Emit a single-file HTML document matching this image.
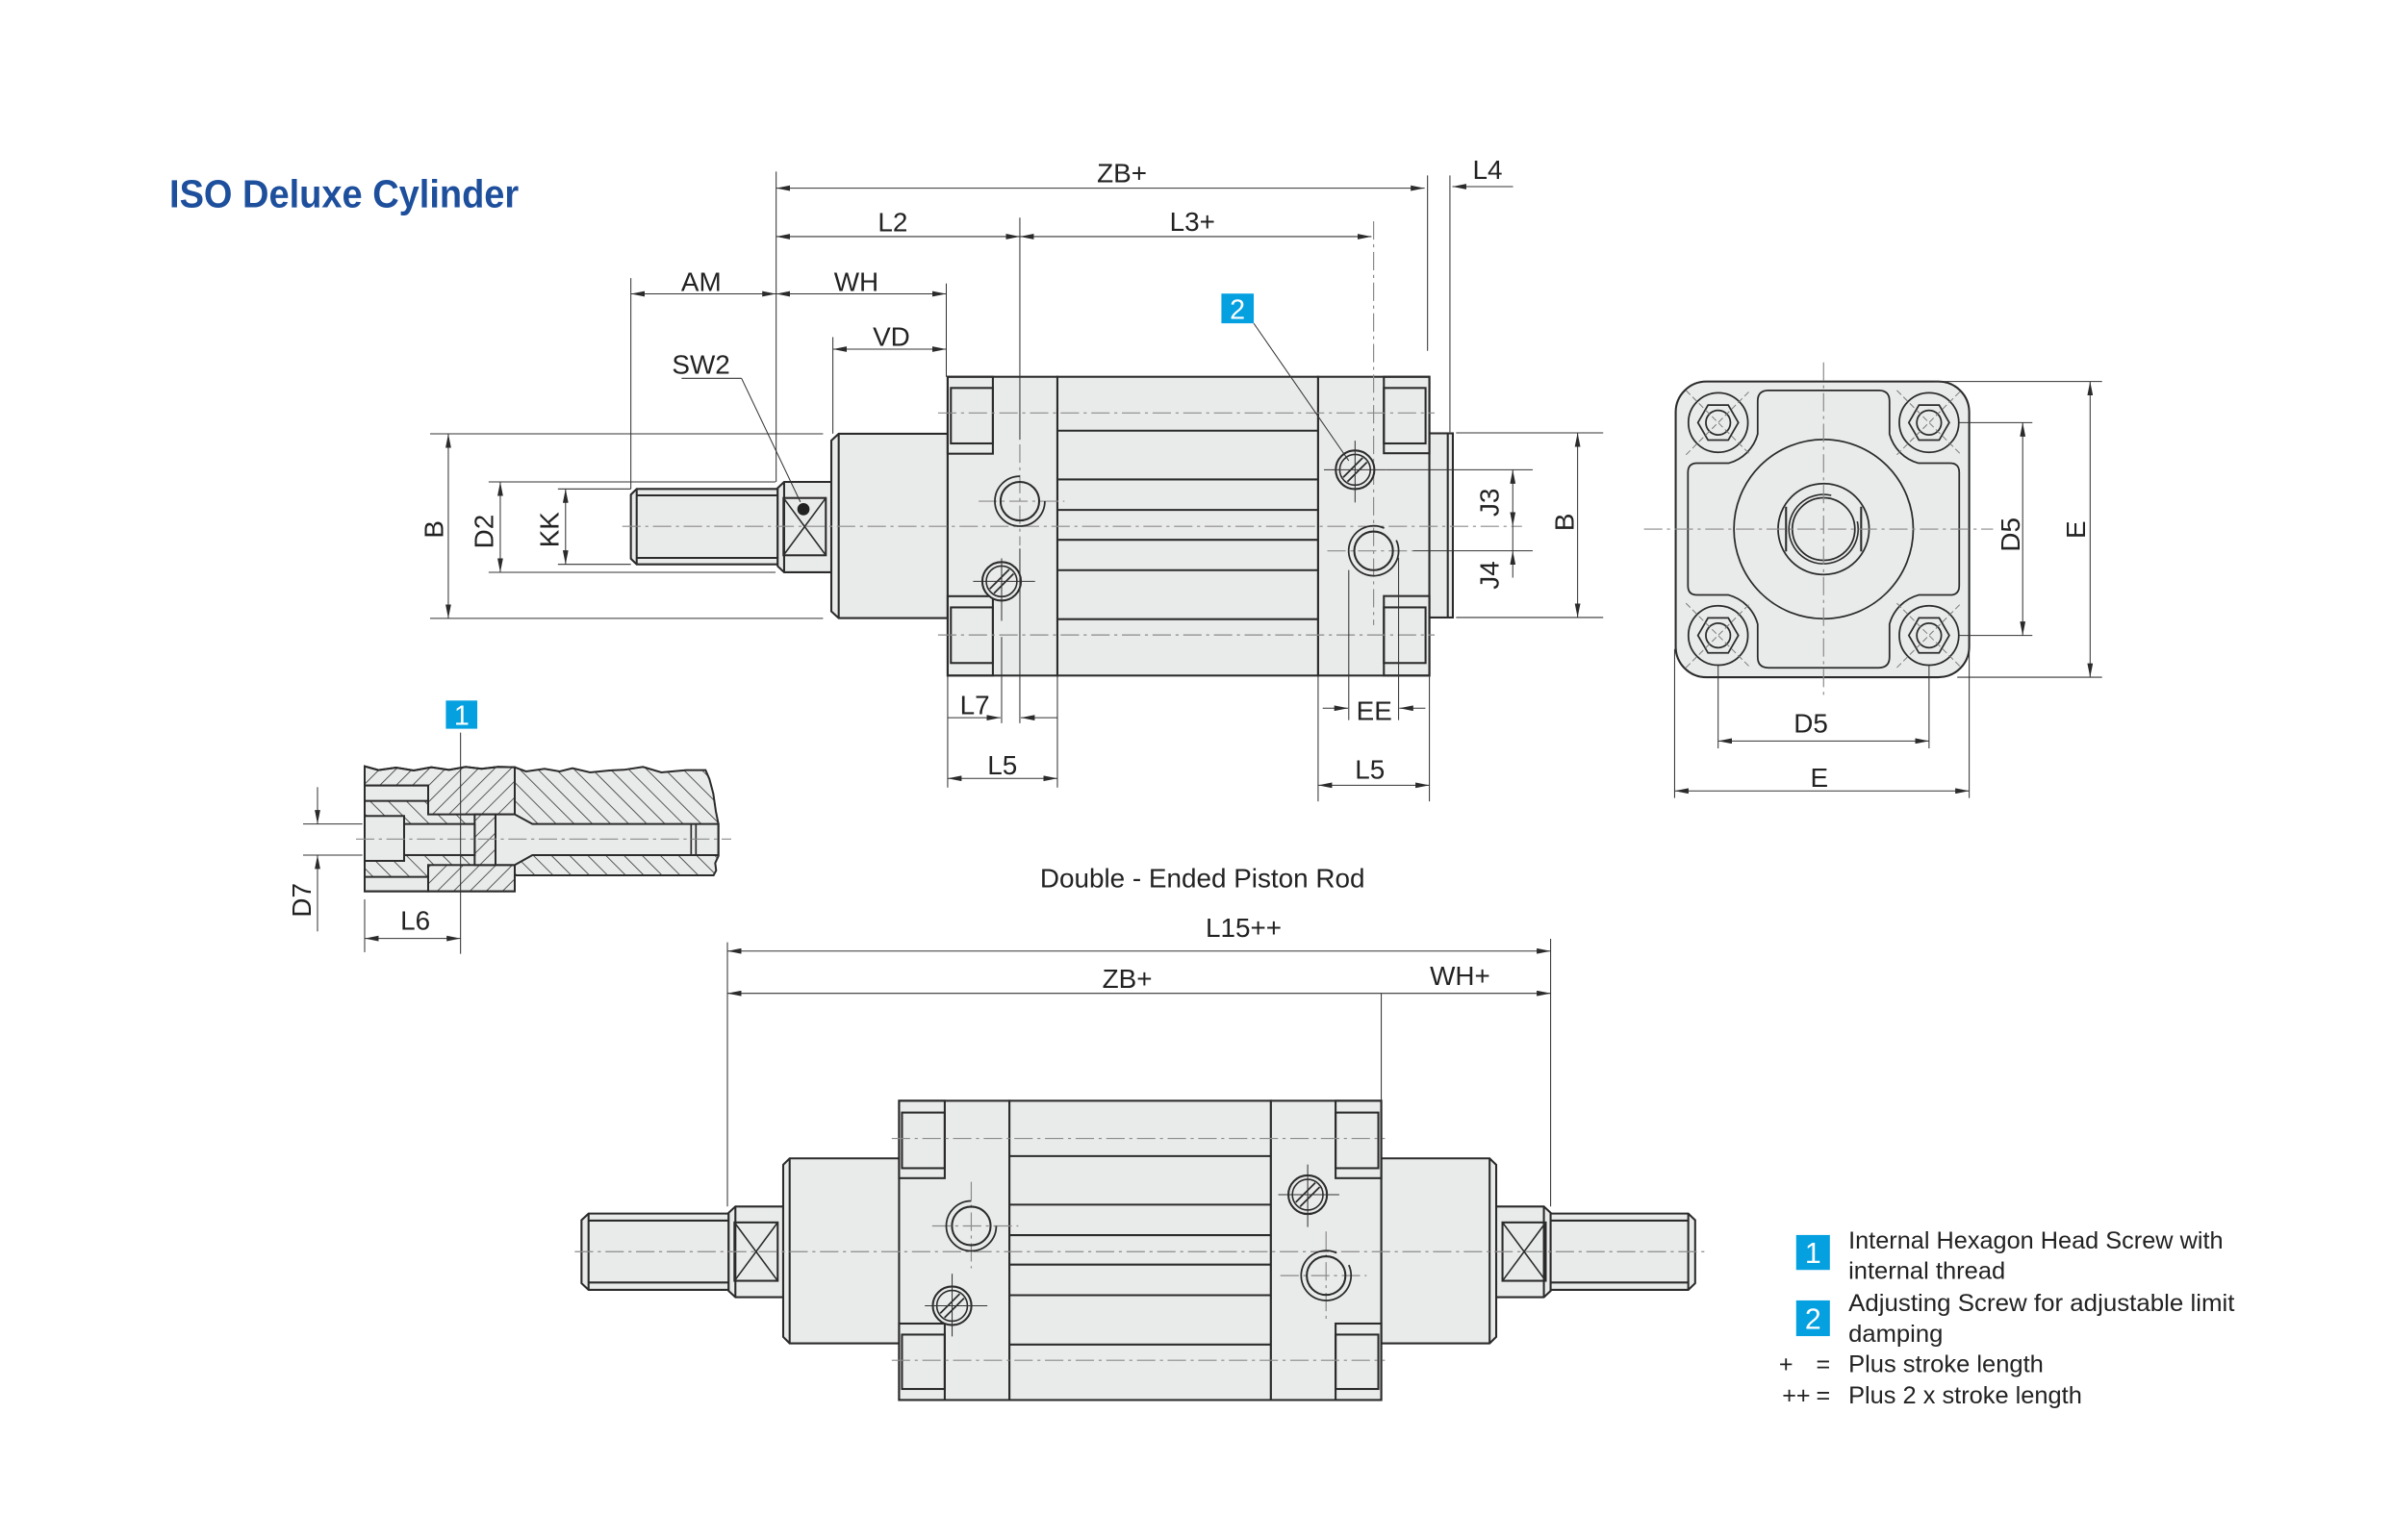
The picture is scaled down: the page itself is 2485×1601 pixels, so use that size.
<!DOCTYPE html>
<html><head><meta charset="utf-8">
<style>
html,body{margin:0;padding:0;background:#fff;overflow:hidden}
svg{display:block}
.o{fill:#e9eaea;stroke:#2b2b2b;stroke-width:1.3}
.l{fill:none;stroke:#2b2b2b;stroke-width:1.3}
.t{fill:none;stroke:#333;stroke-width:0.65}
.d{fill:none;stroke:#333;stroke-width:0.65;marker-start:url(#ar);marker-end:url(#ar)}
.e{fill:none;stroke:#333;stroke-width:0.65;marker-end:url(#ar)}
.c{fill:none;stroke:#8a8a8a;stroke-width:0.75;stroke-dasharray:12 3 2 3}
.c2{fill:none;stroke:#777;stroke-width:0.6;stroke-dasharray:4 2}
text{font-family:"Liberation Sans",Arial,sans-serif;fill:#222}
.lab{font-size:17.5px;text-anchor:middle}
.lg{font-size:15.8px}
.bd{font-size:18px;fill:#fff;text-anchor:middle}
</style></head>
<body>
<svg width="2485" height="1601" viewBox="0 0 1560 1005.06" xmlns="http://www.w3.org/2000/svg">
<defs>
<marker id="ar" viewBox="0 0 10 4" refX="10" refY="2" markerWidth="14" markerHeight="5.6" orient="auto-start-reverse" markerUnits="strokeWidth"><path d="M0,0L10,2L0,4Z" fill="#2b2b2b"/></marker>
<pattern id="hA" patternUnits="userSpaceOnUse" width="36" height="36" patternTransform="rotate(45)"><rect width="36" height="36" fill="#e9eaea"/><line x1="1" y1="0" x2="1" y2="36" stroke="#3a3a3a" stroke-width="3"/></pattern>
<pattern id="hB" patternUnits="userSpaceOnUse" width="40" height="40" patternTransform="rotate(-45)"><rect width="40" height="40" fill="#e9eaea"/><line x1="1" y1="0" x2="1" y2="40" stroke="#3a3a3a" stroke-width="3"/></pattern>
</defs>
<rect width="1560" height="1005.06" fill="#fff"/>

<!-- Title -->
<text x="110.5" y="135.2" font-size="25.5" font-weight="bold" style="fill:#1d4f9c" textLength="228" lengthAdjust="spacingAndGlyphs">ISO Deluxe Cylinder</text>

<!-- ================= TOP VIEW ================= -->
<!-- thread rod -->
<path class="o" d="M415.4,319.1H507.4V368.3H415.4L411.6,364.6V322.8Z"/>
<line class="l" x1="415.4" y1="319.1" x2="415.4" y2="368.3"/>
<line class="l" x1="415.4" y1="323.3" x2="507.4" y2="323.3"/>
<line class="l" x1="415.4" y1="364.1" x2="507.4" y2="364.1"/>
<!-- wrench collar -->
<path class="o" d="M511.6,314.5H542.4V373.5H511.6L507.4,369.5V318.5Z"/>
<line class="l" x1="511.6" y1="314.5" x2="511.6" y2="373.5"/>
<rect class="l" x="511.2" y="325" width="27.6" height="37.4"/>
<line class="l" style="stroke-width:1" x1="511.2" y1="325" x2="538.8" y2="362.4"/>
<line class="l" style="stroke-width:1" x1="538.8" y1="325" x2="511.2" y2="362.4"/>
<circle cx="524.2" cy="332.3" r="4" fill="#222"/>
<!-- nose -->
<path class="o" d="M547.2,283.1H618.3V403.4H547.2L542.4,399V287.5Z"/>
<line class="l" x1="547.2" y1="283.1" x2="547.2" y2="403.4"/>
<!-- body -->
<rect class="o" x="618.3" y="245.9" width="71.6" height="195"/>
<rect class="o" x="689.9" y="245.9" width="170.1" height="195"/>
<rect class="o" x="860" y="245.9" width="72.6" height="195"/>
<rect class="o" x="932.6" y="282.8" width="15.3" height="120.2"/>
<line class="l" x1="944.6" y1="282.8" x2="944.6" y2="403"/>
<!-- tube lines -->
<g class="l">
<line x1="689.9" y1="281.1" x2="860" y2="281.1"/>
<line x1="689.9" y1="312.9" x2="860" y2="312.9"/>
<line x1="689.9" y1="332.8" x2="860" y2="332.8"/>
<line x1="689.9" y1="352.3" x2="860" y2="352.3"/>
<line x1="689.9" y1="372.1" x2="860" y2="372.1"/>
<line x1="689.9" y1="404.1" x2="860" y2="404.1"/>
</g>
<!-- pockets -->
<rect class="l" x="618.3" y="245.9" width="29.5" height="50.2"/>
<rect class="l" x="620.4" y="253.2" width="27.4" height="36.2"/>
<rect class="l" x="618.3" y="389.1" width="29.5" height="51.8"/>
<rect class="l" x="620.4" y="396.4" width="27.4" height="36.3"/>
<rect class="l" x="902.9" y="245.9" width="29.7" height="49.9"/>
<rect class="l" x="902.9" y="253.2" width="27.2" height="36.2"/>
<rect class="l" x="902.9" y="389" width="29.7" height="51.9"/>
<rect class="l" x="902.9" y="396.4" width="27.2" height="36.3"/>
<!-- centre lines -->
<line class="c" x1="406" y1="343.5" x2="993" y2="343.5"/>
<line class="c" x1="612" y1="269.5" x2="936" y2="269.5"/>
<line class="c" x1="612" y1="414.4" x2="936" y2="414.4"/>
<line class="c" x1="665.4" y1="290" x2="665.4" y2="356"/>
<line class="c" x1="896.2" y1="144.4" x2="896.2" y2="408"/>
<line class="c" x1="638.5" y1="327.1" x2="694.5" y2="327.1"/>
<line class="c" x1="866" y1="359.5" x2="922" y2="359.5"/>
<!-- ports and screws -->
<g transform="translate(665.4,327.1)"><circle r="12.6" class="l"/><path class="l" style="stroke-width:1.1" d="M0,-16.3A16.3,16.3 0 1 0 16.3,0"/></g>
<g transform="translate(896.2,359.5)"><circle r="12.6" class="l"/><path class="l" style="stroke-width:1.1" d="M6.9,-14.8A16.3,16.3 0 1 0 14.8,-6.9"/></g>
<g transform="translate(653.5,379.4)"><circle r="12.6" class="o"/><circle r="10" class="l" style="stroke-width:1"/><line class="l" style="stroke-width:1.1" x1="-4.95" y1="7.77" x2="7.77" y2="-4.95"/><line class="l" style="stroke-width:1.1" x1="-7.77" y1="4.95" x2="4.95" y2="-7.77"/></g>
<g transform="translate(884.1,306.6)"><circle r="12.6" class="o"/><circle r="10" class="l" style="stroke-width:1"/><line class="l" style="stroke-width:1.1" x1="-4.95" y1="7.77" x2="7.77" y2="-4.95"/><line class="l" style="stroke-width:1.1" x1="-7.77" y1="4.95" x2="4.95" y2="-7.77"/></g>
<!-- screw crosshairs -->
<g class="t">
<line x1="634.9" y1="379.4" x2="675.3" y2="379.4"/>
<line x1="653.5" y1="364.4" x2="653.5" y2="405.2"/>
<line x1="863.8" y1="306.6" x2="904.5" y2="306.6"/>
<line x1="884.1" y1="287.6" x2="884.1" y2="327.9"/>
</g>

<!-- top view dimension / extension lines -->
<g class="t">
<line x1="506.4" y1="112" x2="506.4" y2="314.5"/>
<line x1="931.4" y1="114.5" x2="931.4" y2="229"/>
<line x1="946" y1="114.5" x2="946" y2="282"/>
<line x1="665.4" y1="142" x2="665.4" y2="287"/>
<line x1="665.4" y1="358" x2="665.4" y2="472"/>
<line x1="411.6" y1="181.5" x2="411.6" y2="319"/>
<line x1="617.4" y1="185" x2="617.4" y2="245.9"/>
<line x1="543.4" y1="220" x2="543.4" y2="283"/>
<line x1="280.6" y1="283.1" x2="537" y2="283.1"/>
<line x1="280.6" y1="403.6" x2="537" y2="403.6"/>
<line x1="318.8" y1="314.5" x2="506" y2="314.5"/>
<line x1="318.8" y1="373.5" x2="506" y2="373.5"/>
<line x1="364" y1="319.1" x2="411.6" y2="319.1"/>
<line x1="364" y1="368.3" x2="411.6" y2="368.3"/>
<line x1="444.7" y1="246.9" x2="483.8" y2="246.9"/>
<line x1="483.8" y1="246.9" x2="522.2" y2="327.6"/>
<line x1="818" y1="211" x2="880" y2="300.7"/>
<line x1="904.5" y1="306.6" x2="1000" y2="306.6"/>
<line x1="922" y1="359.5" x2="1000" y2="359.5"/>
<line x1="987" y1="343.3" x2="987" y2="359.5"/>
<line x1="950" y1="282.5" x2="1046" y2="282.5"/>
<line x1="950" y1="403" x2="1046" y2="403"/>
<line x1="618.3" y1="440.9" x2="618.3" y2="514"/>
<line x1="689.9" y1="440.9" x2="689.9" y2="514"/>
<line x1="653.5" y1="415.7" x2="653.5" y2="472"/>
<line x1="880" y1="372" x2="880" y2="470"/>
<line x1="912.5" y1="364" x2="912.5" y2="470"/>
<line x1="860" y1="440.9" x2="860" y2="523"/>
<line x1="932.6" y1="440.9" x2="932.6" y2="523"/>
</g>
<line class="d" x1="506.4" y1="122.8" x2="929.5" y2="122.8"/>
<line class="e" x1="987.2" y1="121.8" x2="947.6" y2="121.8"/>
<line class="d" x1="506.4" y1="154.4" x2="665.4" y2="154.4"/>
<line class="d" x1="665.4" y1="154.4" x2="894.8" y2="154.4"/>
<line class="d" x1="411.6" y1="191.8" x2="506.4" y2="191.8"/>
<line class="d" x1="506.4" y1="191.8" x2="617.4" y2="191.8"/>
<line class="d" x1="543.4" y1="227.9" x2="617.4" y2="227.9"/>
<line class="d" x1="292.5" y1="283.1" x2="292.5" y2="403.6"/>
<line class="d" x1="326.4" y1="314.5" x2="326.4" y2="373.5"/>
<line class="d" x1="369" y1="319.1" x2="369" y2="368.3"/>
<line class="d" x1="987" y1="306.6" x2="987" y2="343.3"/>
<line class="e" x1="987" y1="377" x2="987" y2="359.5"/>
<line class="d" x1="1029.3" y1="282.5" x2="1029.3" y2="403"/>
<line class="e" x1="618.3" y1="468.4" x2="652.8" y2="468.4"/>
<line class="e" x1="690" y1="468.4" x2="666" y2="468.4"/>
<line class="d" x1="618.3" y1="508" x2="689.9" y2="508"/>
<line class="e" x1="863" y1="462.2" x2="879.6" y2="462.2"/>
<line class="e" x1="930" y1="462.2" x2="913" y2="462.2"/>
<line class="d" x1="860" y1="512.5" x2="932.6" y2="512.5"/>

<!-- top view labels -->
<text class="lab" x="732" y="119">ZB+</text>
<text class="lab" x="970.5" y="116.7">L4</text>
<text class="lab" x="582.5" y="151">L2</text>
<text class="lab" x="778" y="150.7">L3+</text>
<text class="lab" x="457.5" y="189.8">AM</text>
<text class="lab" x="558.7" y="189.8">WH</text>
<text class="lab" x="581.6" y="225.6">VD</text>
<text class="lab" x="457.4" y="243.8">SW2</text>
<text class="lab" x="283" y="351.7" transform="rotate(-90 283 345.5)">B</text>
<text class="lab" x="315.4" y="353.1" transform="rotate(-90 315.4 346.9)">D2</text>
<text class="lab" x="358.2" y="351.9" transform="rotate(-90 358.2 345.7)">KK</text>
<text class="lab" x="971.7" y="334.1" transform="rotate(-90 971.7 327.9)">J3</text>
<text class="lab" x="971.7" y="381.6" transform="rotate(-90 971.7 375.4)">J4</text>
<text class="lab" x="1020.4" y="347" transform="rotate(-90 1020.4 340.8)">B</text>
<text class="lab" x="636" y="466">L7</text>
<text class="lab" x="654" y="505.3">L5</text>
<text class="lab" x="896.6" y="470">EE</text>
<text class="lab" x="893.8" y="508.3">L5</text>
<!-- badge 2 -->
<rect x="796.9" y="191.6" width="21.1" height="19.4" fill="#05a0e0"/>
<text class="bd" x="807.4" y="208">2</text>

<!-- ================= END VIEW ================= -->
<rect class="o" x="1093.3" y="249" width="191.5" height="193" rx="20" ry="20"/>
<path class="l" style="stroke-width:1.1" transform="translate(1189.8,345.3)" d="M-36,-90.5H36Q43,-90.5 43,-83.5V-62A27,27 0 0 0 62,-43H82.5Q88.5,-43 88.5,-37V37Q88.5,43 82.5,43H62A27,27 0 0 0 43,62V83.5Q43,90.5 36,90.5H-36Q-43,90.5 -43,83.5V62A27,27 0 0 0 -62,43H-82.5Q-88.5,43 -88.5,37V-37Q-88.5,-43 -82.5,-43H-62A27,27 0 0 0 -43,-62V-83.5Q-43,-90.5 -36,-90.5Z"/>
<g transform="translate(1189.8,345.3)">
<circle r="58.5" class="l" style="stroke-width:1.1"/>
<circle r="29.7" class="l" style="stroke-width:1.1"/>
<circle r="20.4" class="l" style="stroke-width:1.1"/>
<path class="l" style="stroke-width:1" d="M5,-22A22.6,22.6 0 1 0 22,-5"/>
<line class="l" x1="-24.5" y1="-14.6" x2="-24.5" y2="14.6"/>
<line class="l" x1="24.5" y1="-14.6" x2="24.5" y2="14.6"/>
</g>
<g transform="translate(1121,275.8)"><circle r="19.4" class="l" style="stroke-width:1.1"/><polygon class="l" style="stroke-width:1.1" points="13.2,0 6.6,11.43 -6.6,11.43 -13.2,0 -6.6,-11.43 6.6,-11.43"/><circle r="8" class="l" style="stroke-width:1.1"/><line class="c2" x1="-21" y1="-21" x2="21" y2="21"/><line class="c2" x1="-21" y1="21" x2="21" y2="-21"/></g>
<g transform="translate(1258.6,275.8)"><circle r="19.4" class="l" style="stroke-width:1.1"/><polygon class="l" style="stroke-width:1.1" points="13.2,0 6.6,11.43 -6.6,11.43 -13.2,0 -6.6,-11.43 6.6,-11.43"/><circle r="8" class="l" style="stroke-width:1.1"/><line class="c2" x1="-21" y1="-21" x2="21" y2="21"/><line class="c2" x1="-21" y1="21" x2="21" y2="-21"/></g>
<g transform="translate(1121,414.7)"><circle r="19.4" class="l" style="stroke-width:1.1"/><polygon class="l" style="stroke-width:1.1" points="13.2,0 6.6,11.43 -6.6,11.43 -13.2,0 -6.6,-11.43 6.6,-11.43"/><circle r="8" class="l" style="stroke-width:1.1"/><line class="c2" x1="-21" y1="-21" x2="21" y2="21"/><line class="c2" x1="-21" y1="21" x2="21" y2="-21"/></g>
<g transform="translate(1258.6,414.7)"><circle r="19.4" class="l" style="stroke-width:1.1"/><polygon class="l" style="stroke-width:1.1" points="13.2,0 6.6,11.43 -6.6,11.43 -13.2,0 -6.6,-11.43 6.6,-11.43"/><circle r="8" class="l" style="stroke-width:1.1"/><line class="c2" x1="-21" y1="-21" x2="21" y2="21"/><line class="c2" x1="-21" y1="21" x2="21" y2="-21"/></g>
<line class="c" x1="1189.8" y1="236.5" x2="1189.8" y2="454"/>
<line class="c" x1="1072.6" y1="345.3" x2="1300.4" y2="345.3"/>
<g class="t">
<line x1="1278" y1="275.8" x2="1326" y2="275.8"/>
<line x1="1278" y1="414.7" x2="1326" y2="414.7"/>
<line x1="1262" y1="249" x2="1371.5" y2="249"/>
<line x1="1277" y1="442" x2="1371.5" y2="442"/>
<line x1="1121" y1="434" x2="1121" y2="488.4"/>
<line x1="1258.6" y1="434" x2="1258.6" y2="488.4"/>
<line x1="1092.6" y1="423.6" x2="1092.6" y2="520.8"/>
<line x1="1284.8" y1="423.6" x2="1284.8" y2="520.8"/>
</g>
<line class="d" x1="1319.7" y1="275.8" x2="1319.7" y2="414.7"/>
<line class="d" x1="1363.7" y1="249" x2="1363.7" y2="442"/>
<line class="d" x1="1121" y1="483.6" x2="1258.6" y2="483.6"/>
<line class="d" x1="1092.6" y1="516.2" x2="1284.8" y2="516.2"/>
<text class="lab" x="1311.5" y="355.1" transform="rotate(-90 1311.5 348.9)">D5</text>
<text class="lab" x="1354.3" y="351.9" transform="rotate(-90 1354.3 345.7)">E</text>
<text class="lab" x="1181.5" y="478">D5</text>
<text class="lab" x="1187" y="513.5">E</text>

<!-- ================= SECTION DETAIL ================= -->
<g transform="translate(175.77,445.7) scale(0.20925)">
<path fill="url(#hB)" d="M297,260L340,272L395,264L450,273L505,263L560,271L612,262L662,268L712,262L765,263L800,276L858,268L905,276L945,266L1000,279L1060,273L1105,271L1165,262L1222,279L1300,272L1360,272L1372,300L1384,345L1392,400L1400,440L1400,540L1390,562L1393,585L1385,600L765,600L765,650L297,650Z"/>
<path fill="url(#hA)" stroke="#2b2b2b" stroke-width="6" d="M297,260L340,272L395,264L450,273L505,263L560,271L612,262L662,268L712,262L765,263L765,410L495,410L495,320L297,320Z"/>
<rect x="495" y="568" width="270" height="82" fill="url(#hA)" stroke="#2b2b2b" stroke-width="6"/>
<rect x="640" y="410" width="65" height="158" fill="url(#hA)" stroke="#2b2b2b" stroke-width="6"/>
<rect x="297" y="320" width="198" height="48" fill="#e9eaea" stroke="#2b2b2b" stroke-width="6"/>
<rect x="297" y="605" width="198" height="45" fill="#e9eaea" stroke="#2b2b2b" stroke-width="6"/>
<rect x="297" y="415" width="123" height="140" fill="#e9eaea" stroke="#2b2b2b" stroke-width="6"/>
<rect x="420" y="440" width="220" height="97" fill="#e9eaea" stroke="#2b2b2b" stroke-width="6"/>
<path fill="#e9eaea" stroke="#2b2b2b" stroke-width="6" d="M705,410H765L820,440H1400V537H820L765,568H705Z"/>
<line x1="1315" y1="440" x2="1315" y2="537" stroke="#2b2b2b" stroke-width="5"/>
<line x1="1330" y1="440" x2="1330" y2="537" stroke="#2b2b2b" stroke-width="5"/>
<path fill="none" stroke="#2b2b2b" stroke-width="6" d="M297,260L340,272L395,264L450,273L505,263L560,271L612,262L662,268L712,262L765,263L800,276L858,268L905,276L945,266L1000,279L1060,273L1105,271L1165,262L1222,279L1300,272L1360,272L1372,300L1384,345L1392,400L1400,440L1400,540L1390,562L1393,585L1385,600L765,600L765,650L297,650Z"/>
<line x1="270" y1="487" x2="1440" y2="487" stroke="#8a8a8a" stroke-width="3.5" stroke-dasharray="57 14 10 14"/>
<line x1="596" y1="155" x2="596" y2="845" stroke="#333" stroke-width="3.1"/>
<line x1="105" y1="440" x2="290" y2="440" stroke="#333" stroke-width="3.1"/>
<line x1="105" y1="537" x2="290" y2="537" stroke="#333" stroke-width="3.1"/>
<line x1="297" y1="675" x2="297" y2="840" stroke="#333" stroke-width="3.1"/>
<line x1="150" y1="325" x2="150" y2="440" stroke="#333" stroke-width="3.1" marker-end="url(#ar)"/>
<line x1="150" y1="775" x2="150" y2="537" stroke="#333" stroke-width="3.1" marker-end="url(#ar)"/>
<line x1="297" y1="797" x2="596" y2="797" stroke="#333" stroke-width="3.1" marker-start="url(#ar)" marker-end="url(#ar)"/>
</g>
<rect x="290.9" y="457.2" width="20.5" height="18.4" fill="#05a0e0"/>
<text class="bd" x="301.2" y="473">1</text>
<text class="lab" x="196.7" y="593.7" transform="rotate(-90 196.7 587.5)">D7</text>
<text class="lab" x="271" y="606.8">L6</text>

<!-- ================= BOTTOM VIEW ================= -->
<text class="lab" x="784.5" y="579">Double - Ended Piston Rod</text>
<!-- left rod -->
<path class="o" d="M384,792H475.4V841.8H384L379.4,837.5V796.3Z"/>
<line class="l" x1="384" y1="792" x2="384" y2="841.8"/>
<line class="l" x1="384" y1="796.6" x2="475.4" y2="796.6"/>
<line class="l" x1="384" y1="837" x2="475.4" y2="837"/>
<path class="o" d="M479.8,787.4H511V846.6H479.8L475.4,842.5V791.5Z"/>
<line class="l" x1="479.8" y1="787.4" x2="479.8" y2="846.6"/>
<rect class="l" x="479.2" y="797.8" width="28.2" height="38.1"/>
<line class="l" style="stroke-width:1" x1="479.2" y1="797.8" x2="507.4" y2="835.9"/>
<line class="l" style="stroke-width:1" x1="507.4" y1="797.8" x2="479.2" y2="835.9"/>
<path class="o" d="M515.2,756H587V876.7H515.2L511,872.5V760.2Z"/>
<line class="l" x1="515.2" y1="756" x2="515.2" y2="876.7"/>
<!-- right rod -->
<path class="o" d="M901.2,756H971.9L976.2,760.2V872.5L971.9,876.7H901.2Z"/>
<line class="l" x1="971.9" y1="756" x2="971.9" y2="876.7"/>
<path class="o" d="M976.2,787.4H1007.3L1011.7,791.5V842.5L1007.3,846.6H976.2Z"/>
<line class="l" x1="1007.3" y1="787.4" x2="1007.3" y2="846.6"/>
<rect class="l" x="980.3" y="797.8" width="28.2" height="38.1"/>
<line class="l" style="stroke-width:1" x1="980.3" y1="797.8" x2="1008.5" y2="835.9"/>
<line class="l" style="stroke-width:1" x1="1008.5" y1="797.8" x2="980.3" y2="835.9"/>
<path class="o" d="M1011.7,792H1101.5L1106,796.3V837.5L1101.5,841.8H1011.7Z"/>
<line class="l" x1="1101.5" y1="792" x2="1101.5" y2="841.8"/>
<line class="l" x1="1011.7" y1="796.6" x2="1101.5" y2="796.6"/>
<line class="l" x1="1011.7" y1="837" x2="1101.5" y2="837"/>
<!-- body -->
<rect class="o" x="586.6" y="718.4" width="72" height="195.3"/>
<rect class="o" x="658.6" y="718.4" width="170.6" height="195.3"/>
<rect class="o" x="829.2" y="718.4" width="72" height="195.3"/>
<g class="l">
<line x1="658.6" y1="754.5" x2="829.2" y2="754.5"/>
<line x1="658.6" y1="786.2" x2="829.2" y2="786.2"/>
<line x1="658.6" y1="806.1" x2="829.2" y2="806.1"/>
<line x1="658.6" y1="825.3" x2="829.2" y2="825.3"/>
<line x1="658.6" y1="845.3" x2="829.2" y2="845.3"/>
<line x1="658.6" y1="877.5" x2="829.2" y2="877.5"/>
</g>
<rect class="l" x="586.6" y="718.4" width="29.8" height="50.5"/>
<rect class="l" x="588.5" y="726.1" width="27.9" height="36.3"/>
<rect class="l" x="586.6" y="863.8" width="29.8" height="49.9"/>
<rect class="l" x="588.5" y="871" width="27.9" height="35.5"/>
<rect class="l" x="871.4" y="718.4" width="29.8" height="50.5"/>
<rect class="l" x="871.4" y="726.1" width="27.9" height="36.3"/>
<rect class="l" x="871.4" y="863.8" width="29.8" height="49.9"/>
<rect class="l" x="871.4" y="871" width="27.9" height="35.5"/>
<line class="c" x1="375" y1="816.9" x2="1112.6" y2="816.9"/>
<line class="c" x1="581.8" y1="743" x2="903.6" y2="743"/>
<line class="c" x1="581.8" y1="887.8" x2="903.6" y2="887.8"/>
<line class="c" x1="608.2" y1="800.1" x2="664.4" y2="800.1"/>
<line class="c" x1="633.7" y1="771.3" x2="633.7" y2="827.7"/>
<line class="c" x1="835.4" y1="832.5" x2="891.6" y2="832.5"/>
<line class="c" x1="865.2" y1="803.7" x2="865.2" y2="861.4"/>
<g transform="translate(633.7,800.1)"><circle r="12.6" class="l"/><path class="l" style="stroke-width:1.1" d="M0,-16.3A16.3,16.3 0 1 0 16.3,0"/></g>
<g transform="translate(865.2,832.5)"><circle r="12.6" class="l"/><path class="l" style="stroke-width:1.1" d="M6.9,-14.8A16.3,16.3 0 1 0 14.8,-6.9"/></g>
<g transform="translate(621.2,852.2)"><circle r="12.6" class="o"/><circle r="10" class="l" style="stroke-width:1"/><line class="l" style="stroke-width:1.1" x1="-4.95" y1="7.77" x2="7.77" y2="-4.95"/><line class="l" style="stroke-width:1.1" x1="-7.77" y1="4.95" x2="4.95" y2="-7.77"/></g>
<g transform="translate(853.2,779.7)"><circle r="12.6" class="o"/><circle r="10" class="l" style="stroke-width:1"/><line class="l" style="stroke-width:1.1" x1="-4.95" y1="7.77" x2="7.77" y2="-4.95"/><line class="l" style="stroke-width:1.1" x1="-7.77" y1="4.95" x2="4.95" y2="-7.77"/></g>
<g class="t">
<line x1="603.4" y1="852.2" x2="644.2" y2="852.2"/>
<line x1="621.2" y1="831.3" x2="621.2" y2="872.2"/>
<line x1="834" y1="779.7" x2="873.8" y2="779.7"/>
<line x1="853.2" y1="760" x2="853.2" y2="800.8"/>
<line x1="474.6" y1="615" x2="474.6" y2="787.4"/>
<line x1="1011.7" y1="612.7" x2="1011.7" y2="787.4"/>
<line x1="901.2" y1="648.3" x2="901.2" y2="718.4"/>
</g>
<line class="d" x1="474.6" y1="620.7" x2="1011.7" y2="620.7"/>
<line class="d" x1="474.6" y1="648.3" x2="1011.7" y2="648.3"/>
<text class="lab" x="811.4" y="611.5">L15++</text>
<text class="lab" x="735.5" y="644.7">ZB+</text>
<text class="lab" x="952.6" y="642.8">WH+</text>

<!-- ================= LEGEND ================= -->
<rect x="1171.9" y="806" width="22" height="22.8" fill="#05a0e0"/>
<text class="bd" x="1182.9" y="824.2" style="font-size:19px">1</text>
<rect x="1171.9" y="848.7" width="22" height="23.3" fill="#05a0e0"/>
<text class="bd" x="1182.9" y="867.2" style="font-size:19px">2</text>
<text class="lg" x="1206" y="814.8" textLength="244.5" lengthAdjust="spacingAndGlyphs">Internal Hexagon Head Screw with</text>
<text class="lg" x="1206" y="834.6" textLength="102.4" lengthAdjust="spacingAndGlyphs">internal thread</text>
<text class="lg" x="1206" y="855.5" textLength="252" lengthAdjust="spacingAndGlyphs">Adjusting Screw for adjustable limit</text>
<text class="lg" x="1206" y="875.7" textLength="61.7" lengthAdjust="spacingAndGlyphs">damping</text>
<text class="lg" x="1165.3" y="895.5" text-anchor="middle">+</text>
<text class="lg" x="1189.5" y="895.5" text-anchor="middle">=</text>
<text class="lg" x="1206" y="895.5" textLength="127.3" lengthAdjust="spacingAndGlyphs">Plus stroke length</text>
<text class="lg" x="1172" y="916" text-anchor="middle">++</text>
<text class="lg" x="1189.5" y="916" text-anchor="middle">=</text>
<text class="lg" x="1206" y="916" textLength="152.4" lengthAdjust="spacingAndGlyphs">Plus 2 x stroke length</text>
</svg>
</body></html>
